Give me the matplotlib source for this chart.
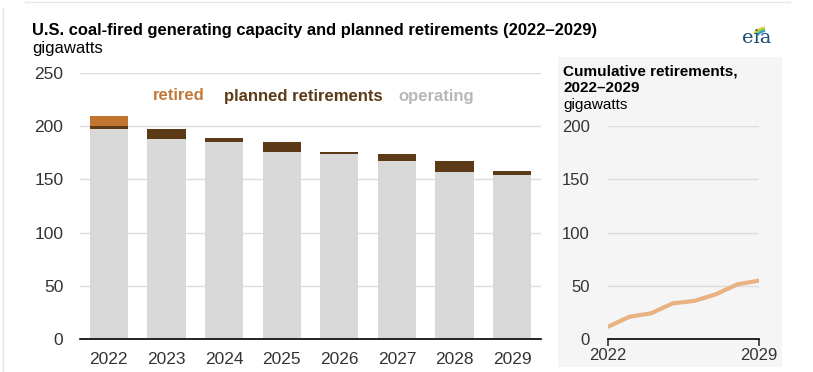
import numpy as np
import matplotlib
matplotlib.use("Agg")
import matplotlib.pyplot as plt
from matplotlib.patches import Rectangle, Arc

plt.rcParams['font.family'] = ['Liberation Sans', 'DejaVu Sans']

# data (gigawatts)
years = ['2022', '2023', '2024', '2025', '2026', '2027', '2028', '2029']
operating = [197, 188, 185, 176, 174, 167, 157, 154]
planned = [3, 9, 3.5, 9.5, 2, 7, 10, 3.5]
retired = [9.5, 0, 0, 0, 0, 0, 0, 0]

cum_years = [2022, 2023, 2024, 2025, 2026, 2027, 2028, 2029]
cumulative = [11.8, 21.2, 24.4, 33.7, 36, 42.2, 51.6, 55]

c_oper = '#d9d9d9'
c_plan = '#5c3a17'
c_ret = '#c27530'
c_line = '#e8b283'
c_text = '#333333'

W, H = 813, 372
fig = plt.figure(figsize=(W / 100, H / 100), dpi=100)
fig.patch.set_facecolor('white')

# frame lines of the page
fig.add_artist(plt.Line2D([3 / W, 3 / W], [0, 1 - 8 / H], color='#e6e6e6', lw=1))
fig.add_artist(plt.Line2D([25 / W, 790 / W], [1 - 2 / H, 1 - 2 / H], color='#e6e6e6', lw=1))

# inset panel background
fig.add_artist(Rectangle((558 / W, 1 - 367 / H), 224 / W, 310 / H,
                         facecolor='#f5f5f5', edgecolor='none', zorder=0))

# main bar chart
ax = fig.add_axes([80 / W, 33 / H, 461 / W, 266 / H])
x = np.arange(len(years))
bw = 0.665
ax.bar(x, operating, width=bw, color=c_oper, zorder=2)
ax.bar(x, planned, width=bw, bottom=operating, color=c_plan, zorder=2)
ax.bar(x, retired, width=bw, bottom=np.array(operating) + np.array(planned),
       color=c_ret, zorder=2)
ax.set_xlim(-0.5, len(years) - 0.5)
ax.set_ylim(0, 250)
ax.set_yticks([0, 50, 100, 150, 200, 250])
ax.set_xticks(x)
ax.set_xticklabels(years)
ax.yaxis.grid(True, color='#dcdcdc', lw=1)
ax.set_axisbelow(True)
for s in ['top', 'right', 'left']:
    ax.spines[s].set_visible(False)
ax.spines['bottom'].set_color('black')
ax.spines['bottom'].set_linewidth(1.2)
ax.spines['bottom'].set_zorder(3)
ax.tick_params(axis='both', length=0, labelsize=12.5, colors=c_text)
ax.tick_params(axis='y', pad=12)
ax.tick_params(axis='x', pad=9)
ax.patch.set_alpha(0)

# legend as coloured words
ly = 1 - 96 / H
fig.text(153 / W, ly, 'retired', color='#c27a3a', fontsize=12, fontweight='bold', va='center')
fig.text(224 / W, ly, 'planned retirements', color='#5c3a17', fontsize=12, fontweight='bold', va='center')
fig.text(398 / W, ly, 'operating', color='#b8b8b8', fontsize=12, fontweight='bold', va='center')

# titles
fig.text(32 / W, 1 - 30 / H, 'U.S. coal-fired generating capacity and planned retirements (2022\u20132029)',
         fontsize=11.9, fontweight='bold', color='black', va='center')
fig.text(32 / W, 1 - 48 / H, 'gigawatts', fontsize=12, color='black', va='center')

# inset line chart
ax2 = fig.add_axes([608 / W, 32.7 / H, 151 / W, 213.3 / H])
ax2.plot(cum_years, cumulative, color=c_line, lw=3, solid_capstyle='round')
ax2.set_xlim(2022, 2029)
ax2.set_ylim(0, 200)
ax2.set_yticks([0, 50, 100, 150, 200])
ax2.set_xticks([2022, 2029])
ax2.set_xticklabels(['2022', '2029'])
ax2.yaxis.grid(True, color='#dcdcdc', lw=1)
ax2.set_axisbelow(True)
for s in ['top', 'right', 'left']:
    ax2.spines[s].set_visible(False)
ax2.spines['bottom'].set_color('black')
ax2.spines['bottom'].set_linewidth(1.2)
ax2.tick_params(axis='y', length=0, labelsize=12, colors=c_text, pad=13)
ax2.tick_params(axis='x', length=5, width=1.2, direction='out', labelsize=12,
                colors=c_text, pad=1.5)
ax2.patch.set_alpha(0)

fig.text(563 / W, 1 - 72 / H, 'Cumulative retirements,', fontsize=11, fontweight='bold', va='center')
fig.text(563 / W, 1 - 88 / H, '2022\u20132029', fontsize=11, fontweight='bold', va='center')
fig.text(563 / W, 1 - 105 / H, 'gigawatts', fontsize=11, va='center')

# eia logo
fig.text(757 / W, 1 - 38 / H, 'eia', fontsize=14, family='DejaVu Serif', color='#1f4e79',
         ha='center', va='center')
lax = fig.add_axes([744 / W, 1 - 40 / H, 30 / W, 20 / H])
lax.set_xlim(0, 30)
lax.set_ylim(0, 20)
lax.axis('off')
for r, col in zip([14, 12, 10], ['#f2d34a', '#8cc63f', '#2aa0d8']):
    lax.add_patch(Arc((22, 0), 2 * r, 2 * r * 0.9, theta1=95, theta2=150, color=col, lw=1.5))

fig.savefig('out.png', dpi=100)
